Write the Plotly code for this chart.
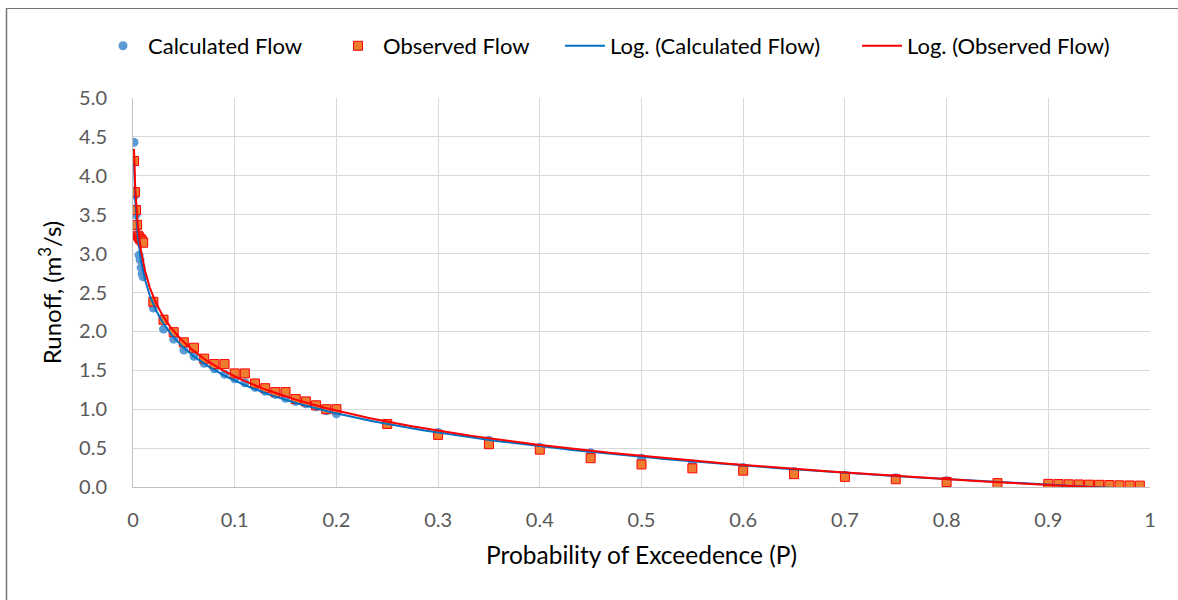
import numpy as np
import plotly.graph_objects as go

# Probability of exceedence (x values)
prob = [0.001, 0.002, 0.003, 0.004, 0.005, 0.006, 0.007, 0.008, 0.009, 0.010,
        0.02, 0.03, 0.04, 0.05, 0.06, 0.07, 0.08, 0.09, 0.10, 0.11,
        0.12, 0.13, 0.14, 0.15, 0.16, 0.17, 0.18, 0.19, 0.20,
        0.25, 0.30, 0.35, 0.40, 0.45, 0.50, 0.55, 0.60, 0.65, 0.70, 0.75, 0.80, 0.85,
        0.90, 0.91, 0.92, 0.93, 0.94, 0.95, 0.96, 0.97, 0.98, 0.99]

calculated_flow = [4.43, 3.75, 3.50, 3.35, 3.22, 2.98, 2.92, 2.82, 2.74, 2.70,
                   2.30, 2.03, 1.90, 1.76, 1.68, 1.59, 1.52, 1.45, 1.39, 1.34,
                   1.28, 1.23, 1.19, 1.14, 1.10, 1.07, 1.03, 0.98, 0.94,
                   0.81, 0.70, 0.60, 0.51, 0.44, 0.37, 0.30, 0.25, 0.20, 0.15, 0.12, 0.08, 0.05,
                   0.035, 0.032, 0.029, 0.026, 0.023, 0.020, 0.017, 0.014, 0.011, 0.008]

observed_flow = [4.19, 3.79, 3.56, 3.37, 3.23, 3.21, 3.19, 3.18, 3.16, 3.14,
                 2.38, 2.15, 1.99, 1.86, 1.79, 1.65, 1.58, 1.58, 1.46, 1.46,
                 1.33, 1.27, 1.22, 1.22, 1.13, 1.10, 1.05, 1.00, 1.00,
                 0.81, 0.67, 0.55, 0.48, 0.37, 0.29, 0.24, 0.21, 0.165, 0.13, 0.10, 0.065, 0.05,
                 0.04, 0.038, 0.035, 0.033, 0.03, 0.028, 0.025, 0.022, 0.02, 0.018]

x_ticks = [0, 0.1, 0.2, 0.3, 0.4, 0.5, 0.6, 0.7, 0.8, 0.9, 1]
x_tick_text = ["0", "0.1", "0.2", "0.3", "0.4", "0.5", "0.6", "0.7", "0.8", "0.9", "1"]
y_ticks = [0, 0.5, 1, 1.5, 2, 2.5, 3, 3.5, 4, 4.5, 5]
y_tick_text = ["0.0", "0.5", "1.0", "1.5", "2.0", "2.5", "3.0", "3.5", "4.0", "4.5", "5.0"]

FONT = "Lato, Noto Sans, sans-serif"

# Logarithmic trendlines (least squares on ln(x), as Excel does)
px = np.array(prob)
xs = np.geomspace(px.min(), px.max(), 400)
a_c, b_c = np.polyfit(np.log(px), np.array(calculated_flow), 1)
a_o, b_o = np.polyfit(np.log(px), np.array(observed_flow), 1)

fig = go.Figure()
fig.add_trace(go.Scatter(
    x=prob, y=calculated_flow, mode="markers", name="Calculated Flow", legend="legend",
    marker=dict(symbol="circle", size=9, color="#5b9bd5", line=dict(width=0))))
fig.add_trace(go.Scatter(
    x=prob, y=observed_flow, mode="markers", name="Observed Flow", legend="legend2",
    marker=dict(symbol="square", size=9, color="#ed7d31", line=dict(width=1, color="#ff0000"))))
fig.add_trace(go.Scatter(
    x=xs, y=a_c * np.log(xs) + b_c, mode="lines", name="Log. (Calculated Flow)", legend="legend3",
    line=dict(color="#0070c0", width=2)))
fig.add_trace(go.Scatter(
    x=xs, y=a_o * np.log(xs) + b_o, mode="lines", name="Log. (Observed Flow)", legend="legend4",
    line=dict(color="#ff0000", width=2)))

W, H = 1178, 600
L, R, T, B = 133, 28, 98, 113
pw, ph = W - L - R, H - T - B


def leg(xpix):
    return dict(orientation="h", x=(xpix - L) / pw, xanchor="left",
                y=1 + (T - 46) / ph, yanchor="middle",
                bgcolor="rgba(0,0,0,0)", borderwidth=0, itemwidth=40,
                font=dict(family=FONT, size=22, color="#000000"))


fig.update_layout(
    width=W, height=H,
    margin=dict(l=L, r=R, t=T, b=B),
    paper_bgcolor="white", plot_bgcolor="white",
    font=dict(family=FONT, color="#404040", size=18),
    showlegend=True,
    legend=leg(98), legend2=leg(333), legend3=leg(560), legend4=leg(857),
    xaxis=dict(range=[0, 1], tickvals=x_ticks, ticktext=x_tick_text,
               showgrid=True, gridcolor="#d9d9d9", gridwidth=1,
               showline=True, linecolor="#bfbfbf", linewidth=1,
               zeroline=False, ticks="", ticklabelstandoff=15,
               tickfont=dict(size=20, color="#595959"),
               title=dict(text="Probability of Exceedence (P)",
                          font=dict(size=24.5, color="#000000"), standoff=16)),
    yaxis=dict(range=[0, 5], tickvals=y_ticks, ticktext=y_tick_text,
               showgrid=True, gridcolor="#d9d9d9", gridwidth=1,
               showline=True, linecolor="#bfbfbf", linewidth=1,
               zeroline=False, ticks="", ticklabelstandoff=21,
               tickfont=dict(size=20, color="#595959"),
               title=dict(text="Runoff, (m<sup>3</sup>/s)",
                          font=dict(size=24, color="#000000"), standoff=10)),
    shapes=[
        dict(type="line", xref="paper", yref="paper",
             x0=(6.5 - L) / pw, x1=(6.5 - L) / pw,
             y0=1 + (T - 8) / ph, y1=-(B + 5) / ph,
             line=dict(color="#767676", width=1.5)),
        dict(type="line", xref="paper", yref="paper",
             x0=(6.5 - L) / pw, x1=(W + 5 - L) / pw,
             y0=1 + (T - 8.5) / ph, y1=1 + (T - 8.5) / ph,
             line=dict(color="#767676", width=1)),
    ],
)

fig.write_html("out.html")
